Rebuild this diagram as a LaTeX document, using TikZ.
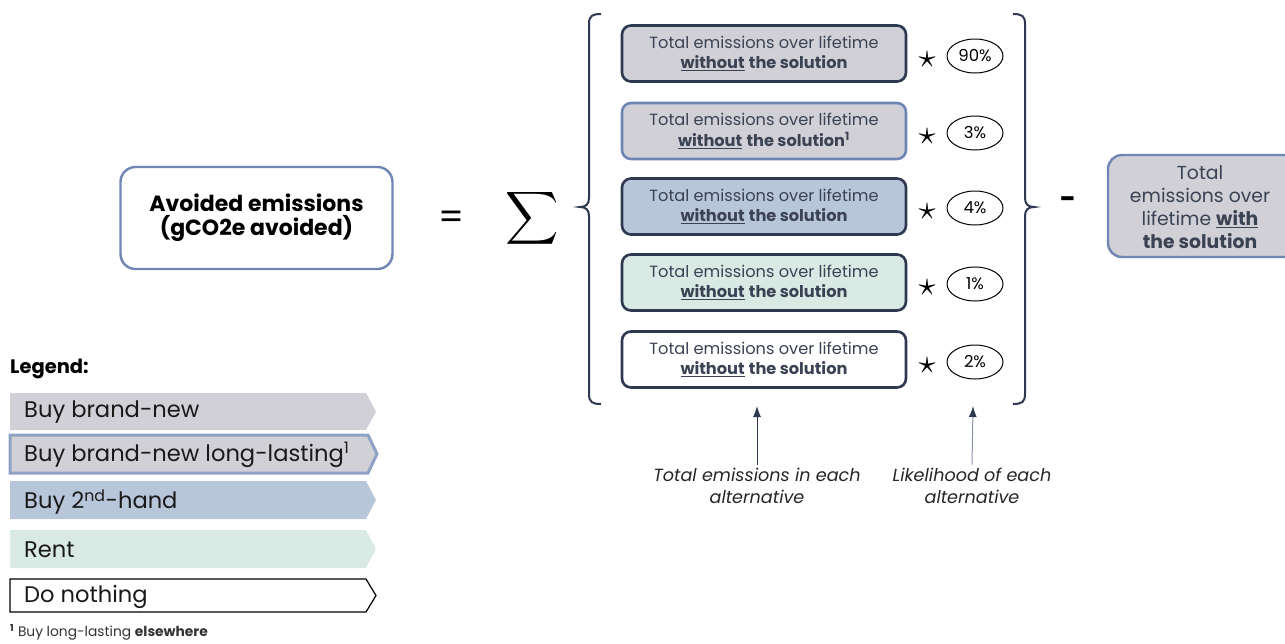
\documentclass[tikz,border=0pt]{standalone}
\usepackage{fontspec}
\setmainfont{Poppins}
\usetikzlibrary{shapes.geometric,arrows.meta}
\definecolor{navy}{HTML}{2E3850}
\definecolor{txt}{HTML}{3A4254}
\definecolor{greyfill}{HTML}{D0D0D6}
\definecolor{bluefill}{HTML}{B8C6D9}
\definecolor{mintfill}{HTML}{D9E9E4}
\definecolor{blueline}{HTML}{6F86B5}
\definecolor{legblue}{HTML}{8FA2C5}
\definecolor{greyline}{HTML}{8C95A6}
\tikzset{
  altbox/.style={draw=navy,line width=2.6pt,rounded corners=9pt,minimum width=284pt,minimum height=56pt,inner sep=0pt,align=center,text=txt,font=\fontsize{16.2}{20.5}\selectfont},
  pct/.style={ellipse,draw=black,line width=1pt,minimum width=56pt,minimum height=34pt,inner sep=0pt,font=\fontsize{16.5}{18}\selectfont,text=black},
  staro/.style={text=black,inner sep=0pt},
  note/.style={font=\fontsize{17.6}{22}\selectfont\itshape,text=black!85,align=center},
  legtxt/.style={anchor=west,font=\fontsize{22.6}{24}\selectfont,text=black!90,inner sep=0pt},
  brace/.style={draw=navy,line width=2pt},
  arr/.style={-{Latex[length=11pt,width=8pt,color=navy]},line width=1pt,draw=navy}
}
\newcommand{\wo}{\textbf{\underline{without}} \textbf{the solution}}
\begin{document}
\begin{tikzpicture}[x=1pt,y=-1pt]
\useasboundingbox (0,0) rectangle (1285,643);
\clip (0,0) rectangle (1285,643);
% left side
\node[draw=blueline,line width=2.4pt,rounded corners=15pt,minimum width=272pt,minimum height=102pt,align=center,font=\fontsize{22}{24}\selectfont\bfseries,text=black] (av) at (256.5,218) {Avoided emissions\\(gCO2e avoided)};
\node[font=\fontsize{36}{36}\selectfont,text=black] (eq) at (452,220) {=};
\node[text=black,inner sep=0pt] (sum) at (532,218) {\scalebox{3.7}{$\displaystyle\sum$}};
% braces
\draw[brace] (601,14) .. controls (592,14) and (589,16) .. (589,24) -- (589,198) .. controls (589,204) and (586,207) .. (580,207) .. controls (586,207) and (589,210) .. (589,216) -- (589,394) .. controls (589,402) and (592,404) .. (601,404);
\draw[brace] (1013,14) .. controls (1022,14) and (1025,16) .. (1025,24) -- (1025,198) .. controls (1025,204) and (1028,207) .. (1034,207) .. controls (1028,207) and (1025,210) .. (1025,216) -- (1025,394) .. controls (1025,402) and (1022,404) .. (1013,404);
% alternative boxes
\node[altbox,fill=greyfill] (b1) at (764,53.5) {Total emissions over lifetime\\\wo};
\node[altbox,fill=greyfill,draw=blueline] (b2) at (764,131) {Total emissions over lifetime\\\textbf{\underline{without}} \textbf{the solution\textsuperscript{1}}};
\node[altbox,fill=bluefill] (b3) at (764,206.5) {Total emissions over lifetime\\\wo};
\node[altbox,fill=mintfill] (b4) at (764,282.5) {Total emissions over lifetime\\\wo};
\node[altbox,fill=white] (b5) at (764,359.5) {Total emissions over lifetime\\\wo};
% stars and percentages
\foreach \n/\y/\p in {1/56/90\%,2/133/3\%,3/208/4\%,4/284/1\%,5/362/2\%}{
  \node[staro] (s\n) at (927,\y+4) {\scalebox{3.4}{$\star$}};
  \node[pct] (p\n) at (975,\y) {\p};
}
% arrows and notes
\node[note] (n1) at (757,486) {Total emissions in each\\alternative};
\node[note] (n2) at (972,486) {Likelihood of each\\alternative};
\coordinate (t1) at (757,406);
\coordinate (t2) at (973,406);
\draw[arr] (n1.north) -- (t1);
\draw[arr,draw=greyline] (n2.north) -- (t2);
% minus
\node[font=\fontsize{28}{28}\selectfont\bfseries,text=black] (minus) at (1068,203) {-};
% right box
\node[draw=blueline,fill=greyfill,line width=2.4pt,rounded corners=14pt,minimum width=190pt,minimum height=102pt,inner sep=0pt] (rb) at (1203,206) {};
\node[align=center,text=txt,font=\fontsize{18.8}{23}\selectfont] (rbt) at (1200,207) {Total\\emissions over\\lifetime \textbf{\underline{with}}\\\textbf{the solution}};
% legend
\node[anchor=west,font=\fontsize{19.5}{20}\selectfont\bfseries,text=black,inner sep=0pt] (leg) at (10,369) {Legend:};
\fill[greyfill] (10,393) -- (366,393) -- (376,411.5) -- (366,430) -- (10,430) -- cycle;
\node[legtxt] (l1) at (24,412) {Buy brand-new};
\draw[fill=greyfill,draw=legblue,line width=3pt] (10,435) -- (368,435) -- (377,454) -- (368,473) -- (10,473) -- cycle;
\node[legtxt] (l2) at (24,455) {Buy brand-new long-lasting\textsuperscript{1}};
\fill[bluefill] (10,481) -- (366,481) -- (376,500) -- (366,519) -- (10,519) -- cycle;
\node[legtxt] (l3) at (24,502) {Buy 2\textsuperscript{nd}-hand};
\fill[mintfill] (10,530) -- (366,530) -- (376,549) -- (366,568) -- (10,568) -- cycle;
\node[legtxt] (l4) at (24,550) {Rent};
\draw[fill=white,draw=black,line width=1.2pt] (10,579) -- (366,579) -- (376,595.5) -- (366,612) -- (10,612) -- cycle;
\node[legtxt] (l5) at (24,597) {Do nothing};
\node[anchor=west,font=\fontsize{13.8}{14}\selectfont,text=black!80,inner sep=0pt] (fn) at (10,632) {\textsuperscript{\textbf{1}} Buy long-lasting \textbf{elsewhere}};
\end{tikzpicture}
\end{document}
